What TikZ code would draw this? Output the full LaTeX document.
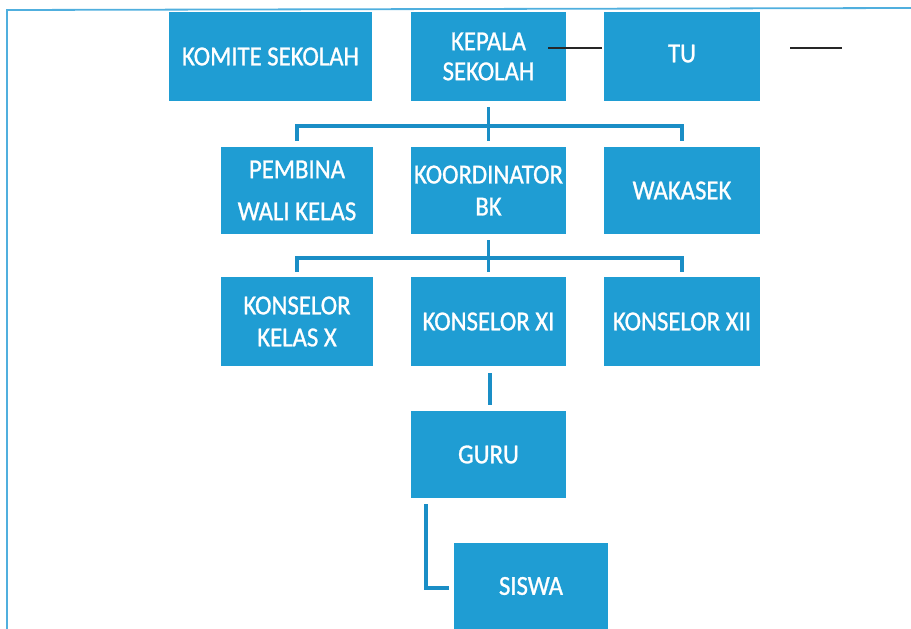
\documentclass[tikz,border=0pt]{standalone}
\usepackage{fontspec}
\setmainfont{Carlito}[FakeStretch=0.9,FakeBold=1]
\definecolor{boxblue}{RGB}{31,157,211}
\definecolor{linkblue}{RGB}{26,142,198}
\definecolor{frameblue}{RGB}{80,175,222}
\begin{document}
\begin{tikzpicture}[x=1pt,y=-1pt,
  box/.style={fill=boxblue, draw=none, text=white, inner sep=0pt, align=center,
    font=\fontsize{27.5}{30}\selectfont},
  link/.style={draw=linkblue, line width=3.5pt},
  blackline/.style={draw=black!85, line width=2pt},
  frameline/.style={draw=frameblue, line width=1.8pt}]
\useasboundingbox (0,0) rectangle (911,629);
% frame
\coordinate (fbl) at (7,629);
\coordinate (ftl) at (7,10);
\coordinate (ftr) at (911,8);
\draw[frameline] (fbl) -- (ftl) -- (ftr);
% row 1
\node[box, minimum width=203pt, minimum height=89pt] (komite) at (270.5,56.5) {KOMITE SEKOLAH};
\node[box, minimum width=155pt, minimum height=89pt] (kepala) at (488.5,56.5) {KEPALA\\SEKOLAH};
\node[box, minimum width=156pt, minimum height=89pt] (tu) at (682,56.5) {\raisebox{6pt}{TU}};
% row 2
\node[box, minimum width=152pt, minimum height=87pt] (pembina) at (297,190.5) {PEMBINA\\[12pt]WALI KELAS};
\node[box, minimum width=155pt, minimum height=87pt] (koord) at (488.5,190.5) {KOORDINATOR\\[2pt]BK};
\node[box, minimum width=156pt, minimum height=87pt] (wakasek) at (682,190.5) {WAKASEK};
% row 3
\node[box, minimum width=152pt, minimum height=89pt] (konx) at (297,321.5) {KONSELOR\\[2pt]KELAS X};
\node[box, minimum width=155pt, minimum height=89pt] (konxi) at (488.5,321.5) {KONSELOR XI};
\node[box, minimum width=156pt, minimum height=89pt] (konxii) at (682,321.5) {KONSELOR XII};
% lower
\node[box, minimum width=155pt, minimum height=87pt] (guru) at (488.5,454.5) {GURU};
\node[box, minimum width=154pt, minimum height=86pt] (siswa) at (531,586) {SISWA};
% connectors
\coordinate (bar1) at (488.5,126);
\draw[link] ([yshift=-6pt]kepala.south) -- (bar1);
\draw[link] ([yshift=6pt]pembina.north) |- (bar1) -| ([yshift=6pt]wakasek.north);
\draw[link] (bar1) -- ([yshift=6pt]koord.north);
\coordinate (bar2) at (488.5,258);
\draw[link] ([yshift=-6pt]koord.south) -- (bar2);
\draw[link] ([yshift=5pt]konx.north) |- (bar2) -| ([yshift=5pt]konxii.north);
\draw[link] (bar2) -- ([yshift=5pt]konxi.north);
\draw[link] ([xshift=1.5pt,yshift=-7pt]konxi.south) -- ([xshift=1.5pt,yshift=6pt]guru.north);
\draw[link] ([xshift=15pt,yshift=-6pt]guru.south west) |- ([xshift=-5pt,yshift=-2pt]siswa.west);
% black strokes
\coordinate (k1) at (548,48);
\draw[blackline] (k1) -- ([xshift=-2pt]tu.west |- k1);
\coordinate (k2) at (790,48);
\coordinate (k3) at (842,48);
\draw[blackline] (k2) -- (k3);
\end{tikzpicture}
\end{document}
